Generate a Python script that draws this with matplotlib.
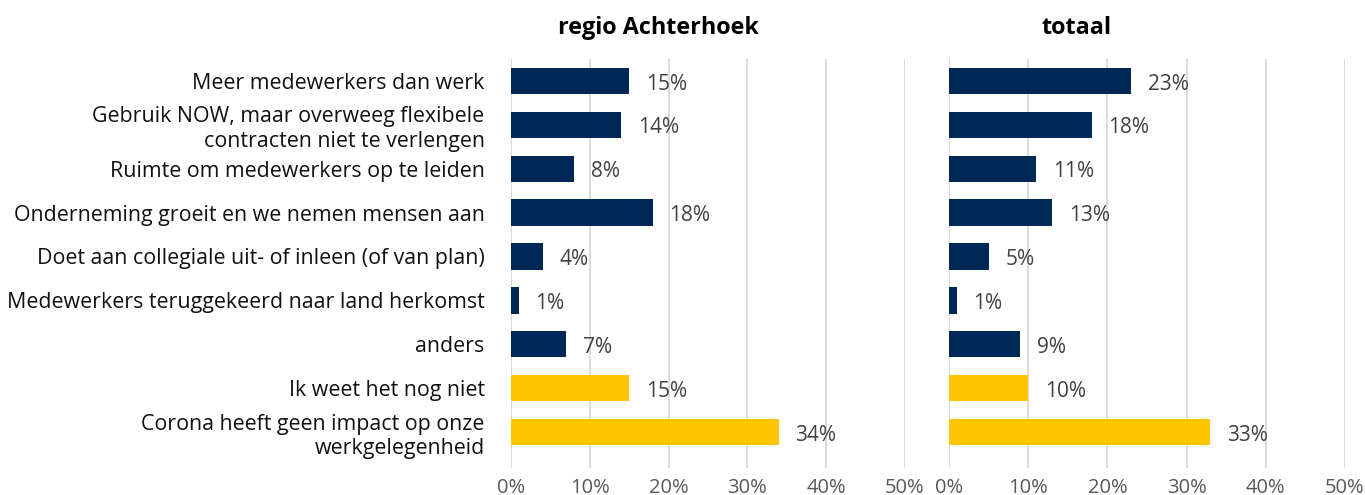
import matplotlib
matplotlib.use("Agg")
import matplotlib.pyplot as plt
import numpy as np

plt.rcParams['font.family'] = ['Open Sans', 'DejaVu Sans']

categories = [
    "Meer medewerkers dan werk",
    "Gebruik NOW, maar overweeg flexibele\ncontracten niet te verlengen",
    "Ruimte om medewerkers op te leiden",
    "Onderneming groeit en we nemen mensen aan",
    "Doet aan collegiale uit- of inleen (of van plan)",
    "Medewerkers teruggekeerd naar land herkomst",
    "anders",
    "Ik weet het nog niet",
    "Corona heeft geen impact op onze\nwerkgelegenheid",
]
achterhoek = [15, 14, 8, 18, 4, 1, 7, 15, 34]
totaal = [23, 18, 11, 13, 5, 1, 9, 10, 33]
bar_colors = ["#002856"] * 7 + ["#FFC600"] * 2
ticks = [0, 10, 20, 30, 40, 50]
tick_labels = ["0%", "10%", "20%", "30%", "40%", "50%"]
titles = ["regio Achterhoek", "totaal"]

W, H = 1365, 495
fig = plt.figure(figsize=(W / 100, H / 100), dpi=100)

top_px, bot_px = 59, 468
axes_px = [(511, 905), (949, 1345)]
title_x = [658, 1077]

y = np.arange(len(categories))
for i, (vals, (x0, x1)) in enumerate(zip([achterhoek, totaal], axes_px)):
    ax = fig.add_axes([x0 / W, 1 - bot_px / H, (x1 - x0) / W, (bot_px - top_px) / H])
    ax.barh(y, vals, height=0.6, color=bar_colors, zorder=3)
    ax.set_xlim(0, 50)
    ax.set_ylim(8.82, -0.5)
    ax.set_xticks(ticks)
    ax.set_xticklabels(tick_labels, fontsize=14.5, color="#595959")
    ax.tick_params(axis='x', length=0, pad=7)
    ax.tick_params(axis='y', length=0)
    ax.grid(axis='x', color="#D9D9D9", linewidth=1.3, zorder=0)
    for s in ax.spines.values():
        s.set_visible(False)
    ax.axvline(0, color="#D9D9D9", linewidth=1.3, zorder=1)
    for yy, v in zip(y, vals):
        ax.text(v + 2.1, yy + 0.07, f"{v}%", va='center', ha='left', fontsize=15, color="#404040")
    if i == 0:
        ax.set_yticks(y)
        ax.set_yticklabels(categories, fontsize=15.4, color="#111111", linespacing=1.2)
        ax.tick_params(axis='y', pad=19)
    else:
        ax.set_yticks([])
    fig.text(title_x[i] / W, 1 - 28 / H, titles[i], ha='center', va='center',
             fontsize=16.8, fontweight='bold', color="#000000")

fig.savefig("out.png", dpi=100)
